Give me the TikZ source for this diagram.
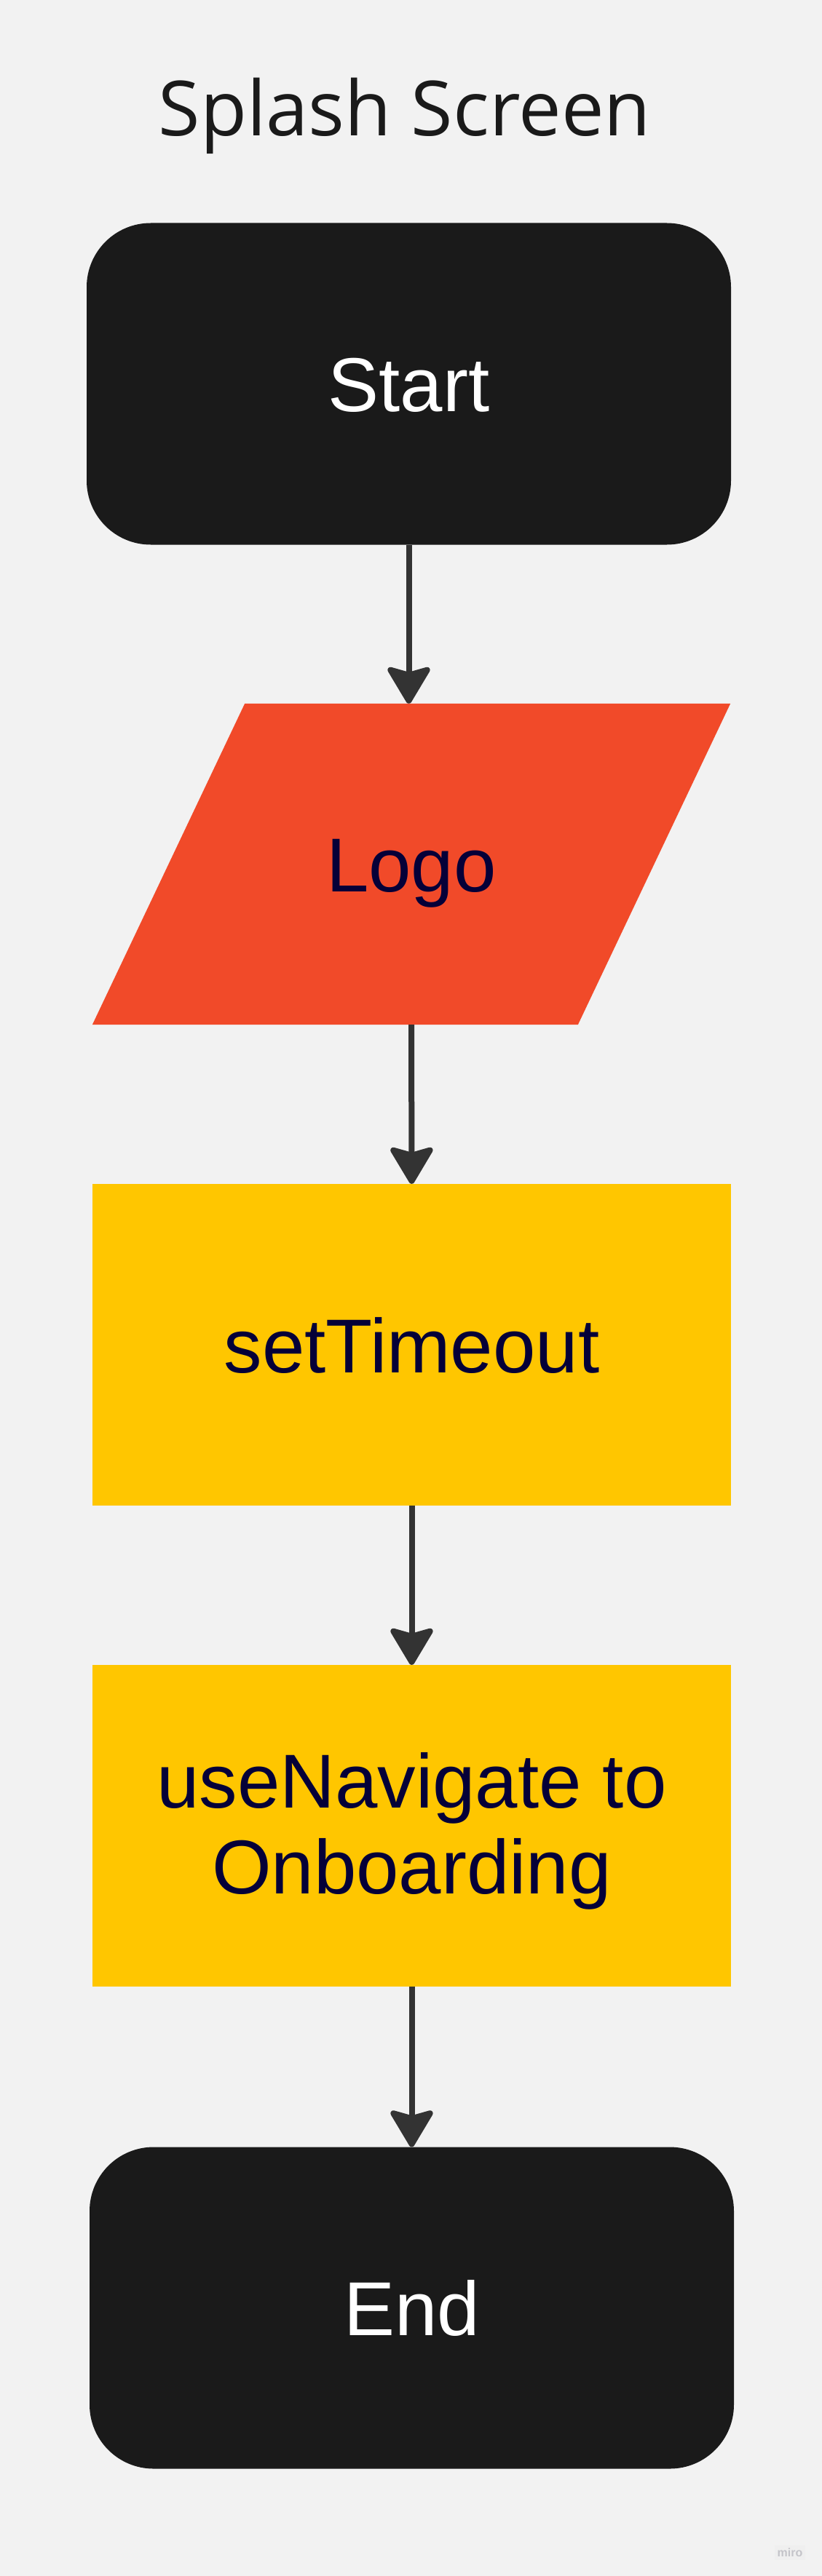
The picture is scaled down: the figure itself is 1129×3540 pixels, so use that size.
\documentclass[tikz,border=0pt]{standalone}
\usepackage{fontspec}
\setmainfont{Liberation Sans}
\newfontfamily\titlefont{Open Sans}
\usetikzlibrary{arrows.meta,calc}
\definecolor{bgcol}{HTML}{F2F2F2}
\definecolor{termcol}{HTML}{1A1A1A}
\definecolor{logocol}{HTML}{F14A29}
\definecolor{stepcol}{HTML}{FFC600}
\definecolor{navycol}{HTML}{050038}
\definecolor{arrowcol}{HTML}{333333}
\definecolor{titlecol}{HTML}{1A1A1A}
\definecolor{mirocol}{HTML}{C4C4C9}
\definecolor{mirobg}{HTML}{EFEFEF}
\begin{document}
\begin{tikzpicture}[x=1pt,y=-1pt,
  boxfont/.style={font=\fontsize{105}{118}\selectfont},
  termbox/.style={boxfont, fill=termcol, text=white, rounded corners=88pt,
    minimum width=885pt, minimum height=442pt, inner sep=0pt,
    text height=76pt, text depth=0pt},
  stepbox/.style={boxfont, fill=stepcol, text=navycol,
    minimum width=877pt, minimum height=442pt, inner sep=0pt},
  onelinetext/.style={text height=76pt, text depth=0pt},
  conn/.style={draw=arrowcol, line width=8pt,
    -{Stealth[length=56pt,width=66pt,inset=9pt,line join=round]}}
]
\fill[bgcol] (0,0) rectangle (1129,3540);
\useasboundingbox (0,0) rectangle (1129,3540);

\node[anchor=base, text=titlecol, font=\titlefont\fontsize{104.5}{126}\selectfont]
  (title) at (556,187) {Splash Screen};

\node[termbox] (start) at (561.5,527.5) {Start};

\node[boxfont, text=navycol, onelinetext, minimum width=876pt, minimum height=441pt,
  inner sep=0pt] (logo) at (565,1187.5) {};
\fill[logocol] (logo.south west) -- ($(logo.south west)+(667,0)$)
  -- (logo.north east) -- ($(logo.north east)+(-667,0)$) -- cycle;
\node[boxfont, text=navycol, onelinetext, inner sep=0pt] (logotext) at (logo.center) {Logo};

\node[stepbox, onelinetext] (timeout) at (565.5,1848) {setTimeout};

\node[stepbox] (nav) at (565.5,2509) {};
\node[boxfont, text=navycol, align=center, inner sep=0pt] (navtext)
  at ($(nav.center)+(0,7.5)$) {useNavigate to\\Onboarding};

\node[termbox] (end) at (565.5,3171.5) {End};

\draw[conn] (start.south) -- (start.south |- logo.north);
\draw[conn] (logo.south) -- (timeout.north);
\draw[conn] (timeout.south) -- (nav.north);
\draw[conn] (nav.south) -- (end.north);

\node[fill=mirobg, text=mirocol, font=\bfseries\fontsize{16}{18}\selectfont,
  inner sep=4pt] (miro) at (1085,3508) {miro};
\end{tikzpicture}
\end{document}
